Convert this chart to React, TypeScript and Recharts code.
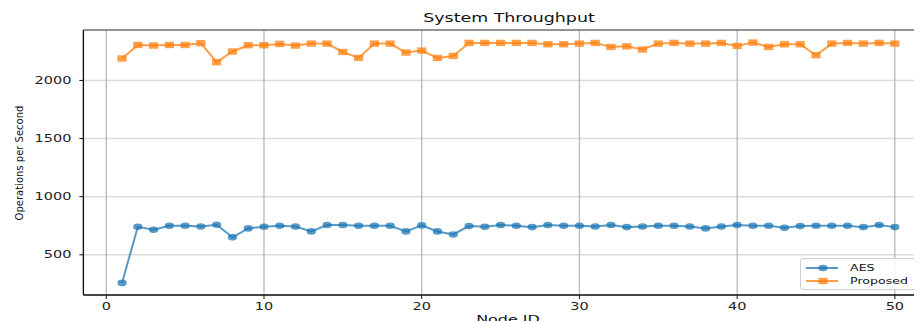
import React from "react";
import { LineChart, Line, XAxis, YAxis, CartesianGrid, ReferenceLine } from "recharts";

const nodeIds = [1,2,3,4,5,6,7,8,9,10,11,12,13,14,15,16,17,18,19,20,21,22,23,24,25,26,27,28,29,30,31,32,33,34,35,36,37,38,39,40,41,42,43,44,45,46,47,48,49,50];
const aesValues = [258,741,716,750,750,744,758,650,727,741,750,744,701,756,756,750,750,750,701,753,701,675,747,741,756,750,738,756,750,750,744,756,738,744,750,750,744,727,744,756,750,750,733,747,750,750,750,738,756,738];
const proposedValues = [2189,2305,2300,2305,2305,2320,2157,2249,2303,2303,2314,2300,2317,2317,2245,2194,2317,2317,2240,2257,2194,2211,2323,2323,2323,2323,2323,2311,2311,2317,2323,2288,2294,2266,2317,2323,2317,2317,2323,2297,2326,2288,2311,2311,2217,2317,2323,2317,2323,2317];
const xTicks = [0, 10, 20, 30, 40, 50];
const yTicks = [500, 1000, 1500, 2000];
const seriesNames = ["AES", "Proposed"];
const title = "System Throughput";
const xLabel = "Node ID";
const yLabel = "Operations per Second";

const data = nodeIds.map((id, i) => ({ id, aes: aesValues[i], proposed: proposedValues[i] }));

const BLUE = "#1f77b4";
const ORANGE = "#ff7f0e";
const FONT = "'DejaVu Sans', sans-serif";
const SX = 1.45;

const YTick = (props: any) => {
  const { x, y, payload } = props;
  return (
    <g transform={`translate(${x},${y})`}>
      <text transform={`scale(${SX},1)`} textAnchor="end" dominantBaseline="central" fontSize={10} fill="#222" fontFamily={FONT}>
        {payload.value}
      </text>
    </g>
  );
};

const XTick = (props: any) => {
  const { x, y, payload } = props;
  return (
    <g transform={`translate(${x},${y})`}>
      <text transform={`scale(${SX},1)`} textAnchor="middle" dy="0.71em" fontSize={10} fill="#222" fontFamily={FONT}>
        {payload.value}
      </text>
    </g>
  );
};

const CircleDot = (props: any) => {
  const { cx, cy } = props;
  if (cx == null || cy == null) return null;
  return <ellipse cx={cx} cy={cy} rx={4.6} ry={3.3} fill={BLUE} fillOpacity={0.75} />;
};

const SquareDot = (props: any) => {
  const { cx, cy } = props;
  if (cx == null || cy == null) return null;
  return <rect x={cx - 4.6} y={cy - 3.2} width={9.2} height={6.4} fill={ORANGE} fillOpacity={0.75} />;
};

export default function App() {
  return (
    <div style={{ position: "relative", width: 914, height: 313, overflow: "hidden", fontFamily: FONT }}>
      <LineChart
        width={940}
        height={330}
        data={data}
        margin={{ top: 22, right: 14.5, left: 0, bottom: 13 }}
      >
        <CartesianGrid horizontal={true} vertical={false} stroke="#dcdcdc" strokeWidth={1.5} />
        <CartesianGrid horizontal={false} vertical={true} stroke="#b8b8b8" strokeWidth={1.3} />
        <XAxis
          dataKey="id"
          type="number"
          domain={[-1.45, 52.45]}
          ticks={xTicks}
          allowDataOverflow
          height={30}
          tickSize={4}
          tickMargin={4}
          tick={<XTick />}
          axisLine={{ stroke: "#111", strokeWidth: 1.3 }}
          tickLine={{ stroke: "#111" }}
        />
        <YAxis
          type="number"
          domain={[154, 2434]}
          ticks={yTicks}
          allowDataOverflow
          width={75.4}
          tickSize={4}
          tickMargin={8}
          tick={<YTick />}
          axisLine={{ stroke: "#111", strokeWidth: 1.3 }}
          tickLine={{ stroke: "#111" }}
        />
        <ReferenceLine y={2434} stroke="#444" strokeWidth={1} ifOverflow="extendDomain" />
        <Line
          dataKey="aes"
          name={seriesNames[0]}
          stroke={BLUE}
          strokeOpacity={0.75}
          strokeWidth={2}
          dot={<CircleDot />}
          activeDot={false}
          isAnimationActive={false}
        />
        <Line
          dataKey="proposed"
          name={seriesNames[1]}
          stroke={ORANGE}
          strokeOpacity={0.75}
          strokeWidth={2}
          dot={<SquareDot />}
          activeDot={false}
          isAnimationActive={false}
        />
      </LineChart>

      <div style={{ position: "absolute", left: 501, top: 10, transform: `translate(-50%, -50%) scale(${SX},1)`, fontSize: 12, color: "#111", whiteSpace: "nowrap" }}>
        {title}
      </div>
      <div style={{ position: "absolute", left: 500, top: 306, transform: `translateX(-50%) scale(${SX},1)`, fontSize: 11, color: "#111", whiteSpace: "nowrap", lineHeight: "12px" }}>
        {xLabel}
      </div>
      <div style={{ position: "absolute", left: 11, top: 155, transform: `translate(-50%, -50%) rotate(-90deg)`, fontSize: 10, color: "#111", whiteSpace: "nowrap" }}>
        {yLabel}
      </div>

      <div style={{ position: "absolute", left: 792, top: 250, width: 135, height: 32, border: "1px solid #d0d0d0", borderRadius: 3, background: "rgba(255,255,255,0.85)", boxSizing: "border-box" }}>
        <svg width={135} height={32} style={{ position: "absolute", left: 0, top: 0 }}>
          <line x1={5} y1={9} x2={37} y2={9} stroke={BLUE} strokeOpacity={0.75} strokeWidth={2} />
          <ellipse cx={22} cy={9} rx={4.6} ry={3.3} fill={BLUE} fillOpacity={0.75} />
          <line x1={5} y1={22} x2={37} y2={22} stroke={ORANGE} strokeOpacity={0.75} strokeWidth={2} />
          <rect x={17.4} y={18.8} width={9.2} height={6.4} fill={ORANGE} fillOpacity={0.75} />
          <text x={0} y={9} transform={`translate(49,0) scale(1.33,1)`} dominantBaseline="central" fontSize={9.5} fill="#111" fontFamily={FONT}>{seriesNames[0]}</text>
          <text x={0} y={22} transform={`translate(49,0) scale(1.33,1)`} dominantBaseline="central" fontSize={9.5} fill="#111" fontFamily={FONT}>{seriesNames[1]}</text>
        </svg>
      </div>
    </div>
  );
}
